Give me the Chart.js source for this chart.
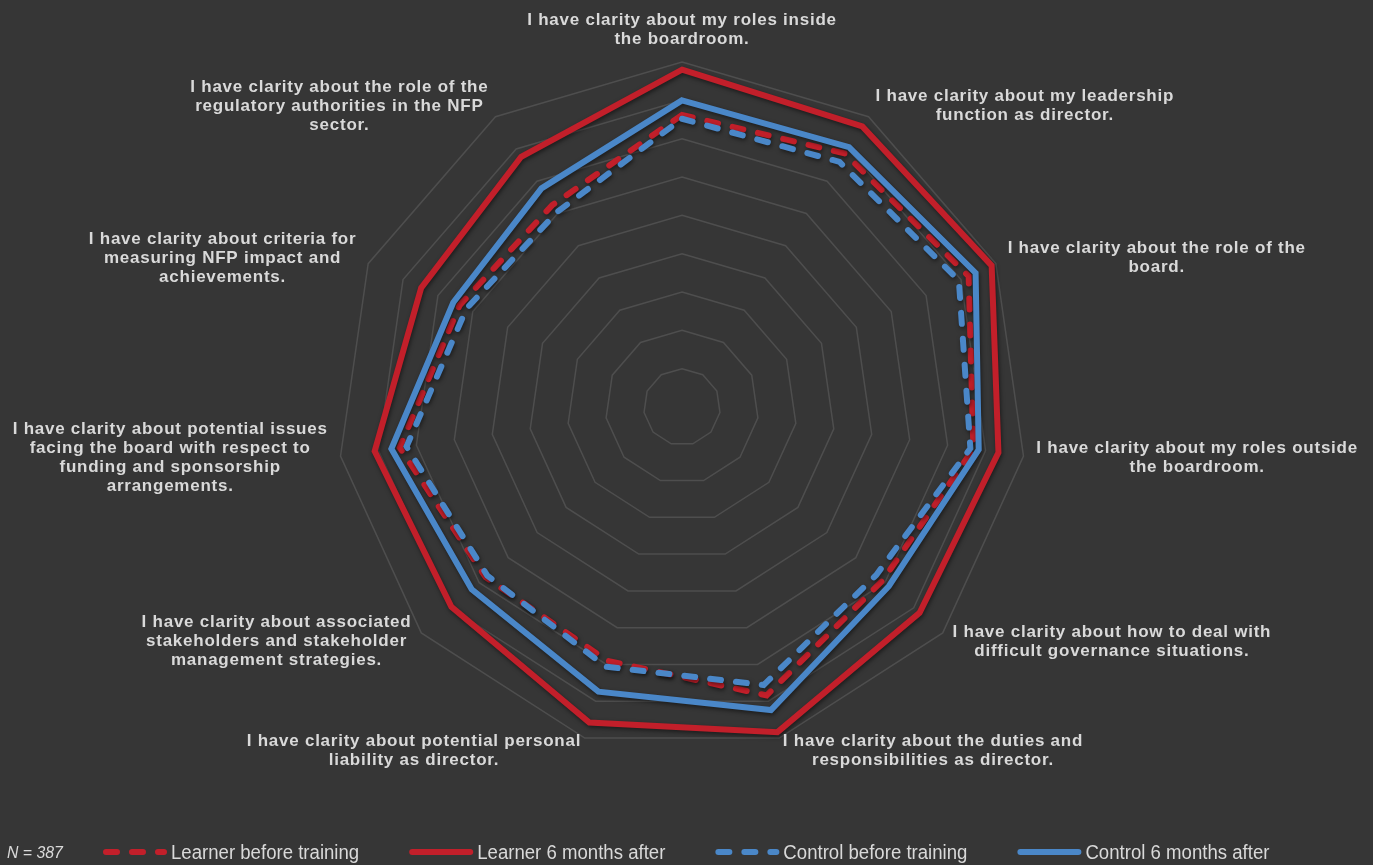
<!DOCTYPE html>
<html>
<head>
<meta charset="utf-8">
<script src="https://cdn.jsdelivr.net/npm/chart.js@4.4.1/dist/chart.umd.min.js"></script>
<style>
  html, body { margin: 0; padding: 0; background: #363636; overflow: hidden; }
  #wrap { position: relative; width: 1373px; height: 865px; }
</style>
</head>
<body>
<div id="wrap"><canvas id="c"></canvas></div>
<script>
// ---------- data ----------
const categories = [
  ["I have clarity about my roles inside", "the boardroom."],
  ["I have clarity about my leadership", "function as director."],
  ["I have clarity about the role of the", "board."],
  ["I have clarity about my roles outside", "the boardroom."],
  ["I have clarity about how to deal with", "difficult governance situations."],
  ["I have clarity about the duties and", "responsibilities as director."],
  ["I have clarity about potential personal", "liability as director."],
  ["I have clarity about associated", "stakeholders and stakeholder", "management strategies."],
  ["I have clarity about potential issues", "facing the board with respect to", "funding and sponsorship", "arrangements."],
  ["I have clarity about criteria for", "measuring NFP impact and", "achievements."],
  ["I have clarity about the role of the", "regulatory authorities in the NFP", "sector."]
];
const seriesNames = ["Learner before training", "Learner 6 months after", "Control before training", "Control 6 months after"];
const learnerBefore = [3.81, 3.93, 4.11, 3.84, 3.46, 3.92, 3.45, 3.39, 3.72, 3.19, 3.13];
const learnerAfter  = [4.40, 4.35, 4.44, 4.17, 4.10, 4.42, 4.29, 3.98, 4.05, 3.74, 3.88];
const controlBefore = [3.76, 3.80, 3.97, 3.80, 3.35, 3.78, 3.53, 3.36, 3.63, 3.09, 3.02];
const controlAfter  = [4.00, 4.03, 4.21, 3.91, 3.57, 4.12, 3.87, 3.63, 3.83, 3.28, 3.39];
const noteText = "N = 387";
const scaleMin = 0, scaleMax = 4.5, scaleStep = 0.5;

// ---------- styles ----------
const RED = '#C21F2A';
const BLUE = '#4A87C8';
const TEXT = '#D9D9D9';
const DASH = [11, 15];

const shadowPlugin = {
  id: 'shadow',
  beforeDatasetDraw(chart) {
    const ctx = chart.ctx;
    ctx.save();
    ctx.shadowColor = 'rgba(0,0,0,0.5)';
    ctx.shadowBlur = 4;
    ctx.shadowOffsetX = 1;
    ctx.shadowOffsetY = 2;
  },
  afterDatasetDraw(chart) { chart.ctx.restore(); }
};

const labelPlugin = {
  id: 'excelLabels',
  afterDraw(chart) {
    const ctx = chart.ctx;
    const scale = chart.scales.r;
    const lh = 19;
    ctx.save();
    ctx.font = 'bold 17px "Liberation Sans", Arial, sans-serif';
    if ('letterSpacing' in ctx) ctx.letterSpacing = '0.75px';
    ctx.fillStyle = TEXT;
    ctx.textBaseline = 'middle';
    ctx.textAlign = 'center';
    categories.forEach((lines, i) => {
      const p = scale.getPointPosition(i, scale.drawingArea + 13);
      const ang = scale.getIndexAngle(i);
      const W = Math.max(...lines.map(l => ctx.measureText(l).width));
      const n = lines.length;
      let cx, cy0;
      if (i === 0) {
        cx = p.x;
        cy0 = p.y - (n - 1) * lh - lh / 2;
      } else {
        cx = ang < Math.PI ? p.x + W / 2 : p.x - W / 2;
        cy0 = p.y - (n - 1) * lh / 2;
      }
      lines.forEach((l, j) => ctx.fillText(l, cx, cy0 + j * lh));
    });
    ctx.restore();

    // legend row (slightly condensed text, as in the original)
    const y = 852;
    const sx = 0.93;
    ctx.save();
    ctx.textBaseline = 'middle';
    ctx.textAlign = 'left';
    ctx.fillStyle = TEXT;
    ctx.save();
    ctx.translate(7, y + 1);
    ctx.scale(sx, 1);
    ctx.font = 'italic 17px "Liberation Sans", Arial, sans-serif';
    ctx.fillText(noteText, 0, 0);
    ctx.restore();
    ctx.font = '20px "Liberation Sans", Arial, sans-serif';
    let x = 103;
    chart.data.datasets.forEach((ds) => {
      ctx.save();
      ctx.strokeStyle = ds.borderColor;
      ctx.lineWidth = 6;
      ctx.lineCap = 'round';
      ctx.setLineDash(ds.borderDash || []);
      ctx.beginPath();
      ctx.moveTo(x + 3, y);
      ctx.lineTo(x + 61, y);
      ctx.stroke();
      ctx.restore();
      ctx.save();
      ctx.translate(x + 68, y + 1);
      ctx.scale(sx, 1);
      ctx.fillText(ds.label, 0, 0);
      ctx.restore();
      x += 68 + ctx.measureText(ds.label).width * sx + 50;
    });
    ctx.restore();
  }
};

const mk = (label, data, color, dashed, order) => ({
  label, data,
  borderColor: color,
  backgroundColor: 'rgba(0,0,0,0)',
  fill: false,
  borderWidth: 6,
  borderDash: dashed ? DASH : [],
  borderCapStyle: dashed ? 'round' : 'butt',
  borderJoinStyle: 'miter',
  pointRadius: 0,
  pointHoverRadius: 0,
  order
});

new Chart(document.getElementById('c'), {
  type: 'radar',
  data: {
    labels: categories,
    datasets: [
      mk(seriesNames[0], learnerBefore, RED, true, 4),
      mk(seriesNames[1], learnerAfter, RED, false, 3),
      mk(seriesNames[2], controlBefore, BLUE, true, 2),
      mk(seriesNames[3], controlAfter, BLUE, false, 1)
    ]
  },
  options: {
    responsive: true,
    maintainAspectRatio: false,
    animation: false,
    layout: { padding: { left: 0, right: 9, top: 62, bottom: 113 } },
    plugins: { legend: { display: false }, tooltip: { enabled: false } },
    elements: { line: { tension: 0 } },
    scales: {
      r: {
        min: scaleMin, max: scaleMax,
        ticks: { display: false, stepSize: scaleStep },
        angleLines: { display: false },
        grid: { color: '#4E4E4E', lineWidth: 1.5 },
        pointLabels: { display: false }
      }
    }
  },
  plugins: [shadowPlugin, labelPlugin]
});
</script>
</body>
</html>
